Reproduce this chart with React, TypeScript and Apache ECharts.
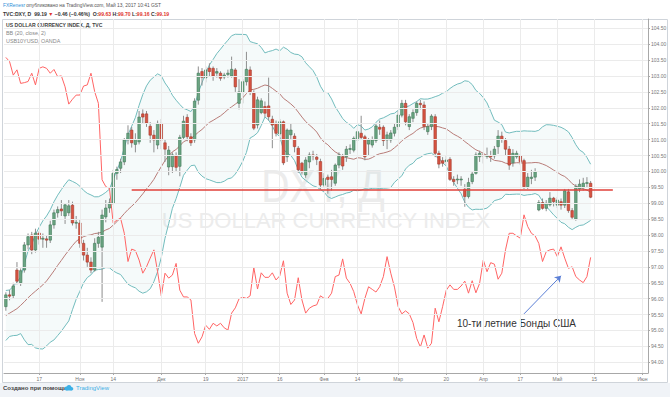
import React, { useEffect, useRef } from 'react';
import * as echarts from 'echarts';

const FONT = "'Liberation Sans', Arial, sans-serif";

// Trading days (weekdays) shown on the category axis
const firstDay = '2016-10-04';
const lastDay = '2017-06-02';
function weekdaysBetween(a: string, b: string): string[] {
  const out: string[] = [];
  const d = new Date(a + 'T00:00:00Z');
  const end = new Date(b + 'T00:00:00Z');
  while (d <= end) {
    const wd = d.getUTCDay();
    if (wd !== 0 && wd !== 6) out.push(d.toISOString().slice(0, 10));
    d.setUTCDate(d.getUTCDate() + 1);
  }
  return out;
}
const dates = weekdaysBetween(firstDay, lastDay);

const tickDates = ['2016-10-17', '2016-11-01', '2016-11-14', '2016-12-01', '2016-12-19', '2017-01-02', '2017-01-16', '2017-02-01', '2017-02-14', '2017-03-01', '2017-03-20', '2017-04-03', '2017-04-17', '2017-05-01', '2017-05-15', '2017-06-01'];
const tickLabels = ['17', 'Ноя', '14', 'Дек', '19', '2017', '16', 'Фев', '14', 'Мар', '20', 'Апр', '17', 'Май', '15', 'Июн'];
const priceTicks = [94.0, 94.5, 95.0, 95.5, 96.0, 96.5, 97.0, 97.5, 98.0, 98.5, 99.0, 99.5, 100.0, 100.5, 101.0, 101.5, 102.0, 102.5, 103.0, 103.5, 104.0, 104.5];

const dxyOpen = [
  95.75, 96.12, 96.10, 96.90, 96.50, 96.90, 97.69, 98.00, 97.53, 98.06,
  97.87, 97.88, 97.84, 98.32, 98.70, 98.82, 98.60, 98.70, 98.94, 98.38,
  98.38, 97.74, 97.37, 97.15, 96.90, 97.74, 97.62, 98.57, 98.85, 99.00,
  99.94, 100.10, 100.30, 100.99, 101.30, 100.85, 100.93, 101.81, 101.81, 101.42,
  101.14, 100.83, 101.51, 100.90, 100.14, 100.15, 100.49, 100.16, 101.07, 101.70,
  101.09, 100.99, 102.24, 103.14, 102.94, 103.25, 103.24, 103.09, 103.09, 102.97,
  103.05, 103.00, 103.19, 102.14, 102.50, 102.82, 103.19, 102.46, 101.46, 101.85,
  102.04, 102.06, 101.64, 101.51, 101.18, 101.56, 100.46, 101.15, 101.11, 100.73,
  100.26, 99.89, 100.30, 100.52, 100.45, 100.31, 99.57, 99.82, 99.83, 99.63,
  100.20, 100.46, 100.46, 100.70, 100.67, 100.99, 101.20, 101.09, 100.86, 100.83,
  100.97, 101.39, 101.39, 100.99, 100.99, 101.20, 101.41, 101.77, 102.14, 101.41,
  101.67, 101.85, 102.14, 102.09, 101.25, 101.41, 101.72, 100.57, 100.34, 100.31,
  100.38, 99.75, 99.75, 99.74, 99.44, 99.21, 99.68, 99.94, 100.46, 100.52,
  100.49, 100.50, 100.49, 100.78, 101.11, 100.97, 100.70, 100.27, 100.46, 100.49,
  100.34, 99.52, 99.78, 99.82, 98.79, 99.02, 98.84, 98.95, 99.16, 98.94,
  99.05, 98.94, 99.36, 98.77, 98.50, 99.45, 99.50, 99.63, 99.63,
];
const dxyHigh = [
  96.20, 96.28, 96.50, 97.15, 96.95, 97.78, 98.05, 98.10, 98.20, 98.12,
  98.05, 97.98, 98.45, 98.80, 98.90, 99.10, 99.00, 99.10, 99.05, 98.60,
  98.50, 97.85, 97.60, 97.30, 97.90, 98.10, 98.80, 99.10, 99.15, 100.05,
  100.15, 100.40, 101.05, 101.45, 101.40, 101.20, 101.90, 101.95, 101.90, 101.55,
  101.30, 101.60, 101.65, 101.00, 100.80, 100.60, 100.60, 101.15, 101.75, 101.80,
  101.20, 102.30, 103.30, 103.25, 103.30, 103.40, 103.30, 103.25, 103.15, 103.10,
  103.20, 103.61, 103.25, 102.90, 102.90, 103.76, 103.30, 102.55, 102.35, 102.30,
  102.20, 102.95, 101.75, 101.60, 101.65, 101.60, 101.35, 101.50, 101.20, 100.80,
  100.30, 100.45, 100.60, 100.65, 100.55, 100.40, 99.95, 99.90, 100.05, 100.25,
  100.60, 100.55, 100.80, 100.85, 101.10, 101.35, 101.75, 101.15, 101.05, 101.10,
  101.50, 101.60, 101.45, 101.25, 101.30, 101.50, 101.90, 102.25, 102.25, 101.80,
  101.95, 102.20, 102.25, 102.20, 101.50, 101.80, 101.80, 100.65, 100.45, 100.50,
  100.45, 99.85, 99.90, 99.85, 99.60, 99.80, 100.00, 100.60, 100.65, 100.60,
  100.75, 100.65, 100.80, 101.30, 101.25, 101.05, 100.80, 100.70, 100.65, 100.55,
  100.40, 99.95, 100.05, 100.10, 99.10, 99.15, 99.10, 99.35, 99.20, 99.20,
  99.15, 99.45, 99.45, 98.85, 99.60, 99.75, 99.80, 99.82, 99.70,
];
const dxyLow = [
  95.62, 95.95, 96.02, 96.45, 96.40, 96.82, 97.55, 97.40, 97.45, 97.70,
  97.60, 97.60, 97.75, 98.20, 98.55, 98.60, 98.35, 98.60, 98.30, 98.20,
  97.60, 97.20, 97.00, 96.80, 96.85, 97.60, 95.90, 98.40, 98.70, 98.95,
  99.74, 99.95, 100.20, 100.85, 100.75, 100.60, 100.85, 101.50, 101.40, 100.90,
  100.60, 100.70, 100.70, 100.30, 99.88, 99.95, 100.00, 99.85, 101.00, 100.95,
  100.80, 100.90, 102.10, 102.70, 102.80, 103.00, 102.85, 102.95, 102.85, 102.90,
  102.95, 102.95, 102.50, 101.95, 102.14, 102.70, 102.40, 101.30, 101.35, 101.80,
  101.70, 101.60, 100.73, 101.10, 101.10, 100.20, 100.30, 101.00, 100.60, 99.95,
  99.90, 99.80, 100.10, 100.35, 100.20, 99.45, 99.50, 99.30, 99.40, 99.55,
  100.10, 100.05, 100.30, 100.55, 100.60, 100.90, 101.00, 100.35, 100.50, 100.75,
  100.90, 101.15, 100.80, 100.70, 100.90, 101.10, 101.30, 101.70, 101.45, 101.30,
  101.55, 101.75, 101.95, 101.30, 101.15, 101.30, 100.45, 100.10, 100.15, 100.20,
  99.70, 99.55, 99.60, 99.55, 98.89, 99.15, 99.60, 99.90, 100.30, 100.25,
  100.40, 100.30, 100.40, 100.55, 100.90, 100.50, 100.05, 100.15, 100.40, 100.20,
  99.45, 99.45, 99.60, 99.70, 98.75, 98.80, 98.75, 98.90, 98.90, 98.85,
  98.80, 98.85, 98.70, 98.50, 98.45, 99.35, 99.40, 99.50, 99.16,
];
const dxyClose = [
  96.12, 96.08, 96.40, 96.55, 96.88, 97.69, 97.95, 97.53, 98.06, 97.87,
  97.90, 97.84, 98.32, 98.70, 98.80, 98.76, 98.95, 98.92, 98.38, 98.40,
  97.74, 97.37, 97.15, 96.90, 97.74, 97.93, 98.63, 98.85, 99.01, 99.94,
  100.06, 100.30, 100.99, 101.20, 100.90, 101.00, 101.71, 101.71, 101.52, 101.14,
  100.99, 101.51, 100.99, 100.70, 100.67, 100.52, 100.13, 101.07, 101.58, 101.09,
  100.90, 102.21, 103.09, 102.96, 103.19, 103.14, 103.00, 103.14, 102.93, 103.03,
  103.09, 103.21, 102.66, 102.50, 102.82, 103.21, 102.51, 101.36, 102.25, 102.22,
  101.83, 101.72, 101.46, 101.20, 101.56, 100.27, 101.30, 101.30, 100.78, 100.05,
  99.99, 100.36, 100.52, 100.50, 100.38, 99.57, 99.78, 99.75, 99.75, 100.20,
  100.52, 100.17, 100.70, 100.72, 101.04, 101.25, 101.07, 100.46, 100.99, 100.99,
  101.43, 101.33, 100.97, 101.15, 101.21, 101.39, 101.77, 102.14, 101.56, 101.72,
  101.85, 102.14, 102.10, 101.41, 101.41, 101.74, 100.57, 100.23, 100.26, 100.36,
  99.75, 99.68, 99.76, 99.76, 99.21, 99.65, 99.92, 100.52, 100.57, 100.49,
  100.50, 100.46, 100.70, 101.11, 101.01, 100.70, 100.20, 100.57, 100.57, 100.31,
  99.52, 99.82, 99.82, 99.99, 99.02, 98.84, 99.00, 99.16, 99.05, 99.10,
  98.94, 99.39, 98.77, 98.56, 99.52, 99.60, 99.63, 99.65, 99.19,
];
// closes before the visible window, needed for the 20-day Bollinger warm-up
const priorCloses = [94.64, 94.99, 95.11, 94.80, 95.43, 95.45, 95.35, 96.08, 95.89, 95.92, 95.36, 95.21, 95.49, 95.34, 95.63, 95.63, 95.91, 95.38, 95.70];

// USB10YUSD (OANDA) price, overlaid on its own hidden scale
const bondPrice = [
  130.88, 130.77, 130.41, 130.55, 130.19, 130.21, 130.24, 130.46, 130.15, 130.59,
  130.63, 130.59, 130.46, 130.56, 130.37, 130.39, 130.10, 129.64, 129.77, 129.88,
  129.88, 130.12, 130.15, 130.46, 129.97, 129.66, 127.63, 127.45, 127.40, 126.48,
  126.56, 126.61, 126.21, 125.46, 125.79, 125.75, 125.50, 125.15, 125.32, 125.55,
  125.77, 125.19, 124.55, 125.15, 125.02, 125.10, 125.41, 124.70, 124.52, 124.52,
  124.44, 123.55, 123.29, 123.46, 123.77, 123.66, 123.82, 123.75, 123.82, 123.70,
  123.64, 124.09, 124.23, 124.47, 124.51, 124.48, 124.55, 125.30, 124.73, 125.16,
  125.04, 125.04, 125.16, 124.97, 125.08, 125.48, 124.62, 124.32, 124.44, 125.03,
  124.44, 124.09, 124.22, 124.28, 124.31, 124.55, 124.48, 124.48, 124.62, 125.06,
  125.10, 125.53, 125.02, 124.88, 124.66, 124.31, 124.07, 124.48, 124.79, 124.72,
  124.65, 124.79, 125.06, 125.59, 125.15, 124.78, 124.26, 124.07, 124.15, 124.07,
  123.84, 123.42, 123.19, 123.51, 123.16, 123.29, 124.22, 123.86, 124.26, 124.70,
  124.84, 124.72, 124.72, 124.81, 124.94, 124.62, 124.95, 124.63, 124.88, 125.50,
  125.19, 125.43, 125.39, 124.99, 125.15, 125.77, 126.21, 126.21, 126.14, 126.08,
  126.70, 126.39, 126.21, 126.14, 125.94, 125.46, 125.72, 125.77, 125.79, 125.59,
  125.85, 125.55, 125.28, 125.32, 125.06, 124.97, 124.90, 125.06, 125.57,
];

const supportLevel = 99.44;
const supportFrom = '2016-11-21';
const supportTo = '2017-05-22';
const arrowFrom: [string, number] = ['2017-04-18', 124.07];
const arrowTo: [string, number] = ['2017-05-02', 125.08];
const bbPeriod = 20;
const bbMult = 2;

function bollinger(closes: number[], prior: number[], n: number, k: number) {
  const all = prior.concat(closes);
  const mid: number[] = [], up: number[] = [], lo: number[] = [];
  for (let i = 0; i < closes.length; i++) {
    const end = i + prior.length + 1;
    const w = all.slice(end - n, end);
    const m = w.reduce((a, b) => a + b, 0) / n;
    const sd = Math.sqrt(w.reduce((a, b) => a + (b - m) * (b - m), 0) / n);
    mid.push(m); up.push(m + k * sd); lo.push(m - k * sd);
  }
  return { mid, up, lo };
}

export default function App() {
  const ref = useRef<HTMLDivElement>(null);
  useEffect(() => {
    if (!ref.current) return;
    const chart = echarts.init(ref.current, null, { renderer: 'svg' });
    const bb = bollinger(dxyClose, priorCloses, bbPeriod, bbMult);
    const labelIdx: Record<number, string> = {};
    tickDates.forEach((d, k) => { labelIdx[dates.indexOf(d)] = tickLabels[k]; });
    const candles = dxyOpen.map((o, i) => [i, o, dxyClose[i], dxyLow[i], dxyHigh[i]]);

    const option: any = {
      animation: false,
      backgroundColor: '#ffffff',
      grid: { left: 4, right: 22, top: 19, bottom: 24 },
      xAxis: {
        type: 'category',
        data: dates,
        boundaryGap: true,
        axisLine: { lineStyle: { color: '#a8a8a8' } },
        axisTick: { show: true, alignWithLabel: true, length: 2, interval: (i: number) => labelIdx[i] !== undefined, lineStyle: { color: '#a8a8a8' } },
        axisLabel: {
          interval: (i: number) => labelIdx[i] !== undefined,
          formatter: (_v: string, i: number) => labelIdx[i] ?? '',
          fontSize: 5, color: '#777', margin: 3, fontFamily: FONT,
        },
        splitLine: { show: false },
      },
      yAxis: [
        {
          type: 'value', position: 'right', min: 93.664, max: 104.792,
          axisLine: { show: true, lineStyle: { color: '#a8a8a8' } },
          axisTick: { show: true, length: 2, customValues: priceTicks, lineStyle: { color: '#a8a8a8' } },
          axisLabel: { customValues: priceTicks, formatter: (v: number) => v.toFixed(2), fontSize: 5, color: '#777', margin: 3, fontFamily: FONT },
          splitLine: { show: false },
        },
        { type: 'value', min: 122.5, max: 131.9, show: false },
      ],
      graphic: [
        { type: 'rect', shape: { x: 0, y: 383, width: 670, height: 14 }, style: { fill: '#f0f3f7' } },
        { type: 'rect', shape: { x: 2.5, y: 19.5, width: 665, height: 363 }, style: { fill: 'none', stroke: '#cfd4da', lineWidth: 1 } },
        {
          type: 'text', x: 3, y: 5,
          style: {
            text: '{b|FXRenesr} {d|опубликовано на TradingView.com, Май 13, 2017 10:41 GST}',
            verticalAlign: 'middle', fontSize: 4.9, fontFamily: FONT,
            rich: { b: { fill: '#2f8fd8', fontSize: 4.9, fontFamily: FONT }, d: { fill: '#555', fontSize: 4.9, fontFamily: FONT } },
          },
        },
        {
          type: 'text', x: 3, y: 14,
          style: {
            text: '{d|TVC:DXY, D  99.19 }{r|▼}{d| −0.46 (−0.46%)  O:}{r|99.63}{d| H:}{r|99.70}{d| L:}{r|99.16}{d| C:}{r|99.19}',
            verticalAlign: 'middle', fontSize: 5.1, fontFamily: FONT, fontWeight: 'bold',
            rich: {
              d: { fill: '#333', fontSize: 5.1, fontFamily: FONT, fontWeight: 'bold' },
              r: { fill: '#e0352b', fontSize: 5.1, fontFamily: FONT, fontWeight: 'bold' },
            },
          },
        },
        { type: 'text', x: 6, y: 25, style: { text: 'US DOLLAR CURRENCY INDEX, Д, TVC', verticalAlign: 'middle', fontSize: 5.1, fontWeight: 'bold', fontFamily: FONT, fill: '#444' } },
        { type: 'text', x: 6, y: 33, style: { text: 'BB (20, close, 2)', verticalAlign: 'middle', fontSize: 5.4, fontFamily: FONT, fill: '#888' } },
        { type: 'text', x: 6, y: 41, style: { text: 'USB10YUSD, OANDA', verticalAlign: 'middle', fontSize: 5.4, fontFamily: FONT, fill: '#888' } },
        { type: 'text', x: 323, y: 186, scaleX: 0.85, style: { text: 'DXY, Д', align: 'center', verticalAlign: 'middle', fontSize: 46, fontFamily: FONT, fill: '#ececec' } },
        { type: 'text', x: 326, y: 220, style: { text: 'US DOLLAR CURRENCY INDEX', align: 'center', verticalAlign: 'middle', fontSize: 22, fontFamily: FONT, fill: '#ececec' } },
        { type: 'text', x: 457, y: 323, style: { text: '10-ти летние Бонды США', verticalAlign: 'middle', fontSize: 10, fontFamily: FONT, fill: '#333' } },
        { type: 'text', x: 3, y: 388, style: { text: 'Создано при помощи', verticalAlign: 'middle', fontSize: 6, fontWeight: 'bold', fontFamily: FONT, fill: '#444' } },
        {
          type: 'group', x: 64, y: 385,
          children: [
            { type: 'circle', shape: { cx: 2.5, cy: 3.5, r: 2 }, style: { fill: '#3cb0e6' } },
            { type: 'circle', shape: { cx: 5, cy: 2.5, r: 2.5 }, style: { fill: '#3cb0e6' } },
            { type: 'circle', shape: { cx: 7.5, cy: 3.7, r: 1.8 }, style: { fill: '#3cb0e6' } },
            { type: 'rect', shape: { x: 2.5, y: 3.5, width: 5, height: 2 }, style: { fill: '#3cb0e6' } },
          ],
        },
        { type: 'text', x: 76, y: 388, style: { text: 'TradingView', verticalAlign: 'middle', fontSize: 6, fontFamily: FONT, fill: '#3cb0e6' } },
      ],
      series: [
        {
          name: 'grid', type: 'line', data: dxyClose, showSymbol: false, silent: true, z: 0,
          lineStyle: { opacity: 0, width: 0 },
          markLine: {
            silent: true, symbol: 'none', label: { show: false }, animation: false,
            lineStyle: { color: '#ebebeb', width: 1, type: 'solid' },
            data: [
              ...priceTicks.map((v) => ({ yAxis: v })),
              ...tickDates.map((d) => ({ xAxis: d })),
            ],
          },
        },
        {
          name: 'bbLower', type: 'line', data: bb.lo, stack: 'bb', showSymbol: false, silent: true, z: 1,
          lineStyle: { color: '#72bcbd', width: 1 },
        },
        {
          name: 'bbUpper', type: 'line', data: bb.up.map((u, i) => u - bb.lo[i]), stack: 'bb', showSymbol: false, silent: true, z: 1,
          lineStyle: { color: '#72bcbd', width: 1 },
          areaStyle: { color: 'rgba(90, 175, 175, 0.09)' },
        },
        {
          name: 'bbMid', type: 'line', data: bb.mid, showSymbol: false, silent: true, z: 1,
          lineStyle: { color: '#b87c78', width: 1 },
        },
        {
          name: 'USB10YUSD', type: 'line', data: bondPrice, yAxisIndex: 1, showSymbol: false, silent: true, z: 2,
          lineStyle: { color: '#ff6464', width: 1 },
          markLine: {
            silent: true, symbol: ['none', 'arrow'], symbolSize: 6, label: { show: false }, animation: false,
            lineStyle: { color: '#5b7fd6', width: 1, type: 'solid' },
            data: [[{ coord: arrowFrom }, { coord: arrowTo }]],
          },
        },
        {
          name: 'DXY', type: 'custom', data: candles, z: 3, clip: true,
          encode: { x: 0, y: [1, 2, 3, 4] },
          renderItem: (_p: any, api: any) => {
            const i = api.value(0);
            const o = api.value(1), c = api.value(2), l = api.value(3), h = api.value(4);
            const pO = api.coord([i, o]);
            const pC = api.coord([i, c]);
            const pL = api.coord([i, l]);
            const pH = api.coord([i, h]);
            const w = api.size([1, 0])[0] * 0.68;
            const up = c >= o;
            const top = Math.min(pO[1], pC[1]);
            const bh = Math.max(Math.abs(pO[1] - pC[1]), 0.9);
            return {
              type: 'group',
              children: [
                { type: 'line', shape: { x1: pH[0], y1: pH[1], x2: pL[0], y2: pL[1] }, style: { stroke: '#8e8e8e', lineWidth: 1 } },
                {
                  type: 'rect', shape: { x: pO[0] - w / 2, y: top, width: w, height: bh },
                  style: { fill: up ? '#6ba583' : '#d75442', stroke: up ? '#3f7858' : '#a2392b', lineWidth: 0.6 },
                },
              ],
            };
          },
          markLine: {
            silent: true, symbol: 'none', label: { show: false }, animation: false,
            lineStyle: { color: '#e0403a', width: 1.5, type: 'solid' },
            data: [[{ coord: [supportFrom, supportLevel] }, { coord: [supportTo, supportLevel] }]],
          },
        },
      ],
    };
    chart.setOption(option);
    return () => chart.dispose();
  }, []);
  return <div ref={ref} style={{ position: 'absolute', left: 0, top: 0, width: 670, height: 397, background: '#fff' }} />;
}
